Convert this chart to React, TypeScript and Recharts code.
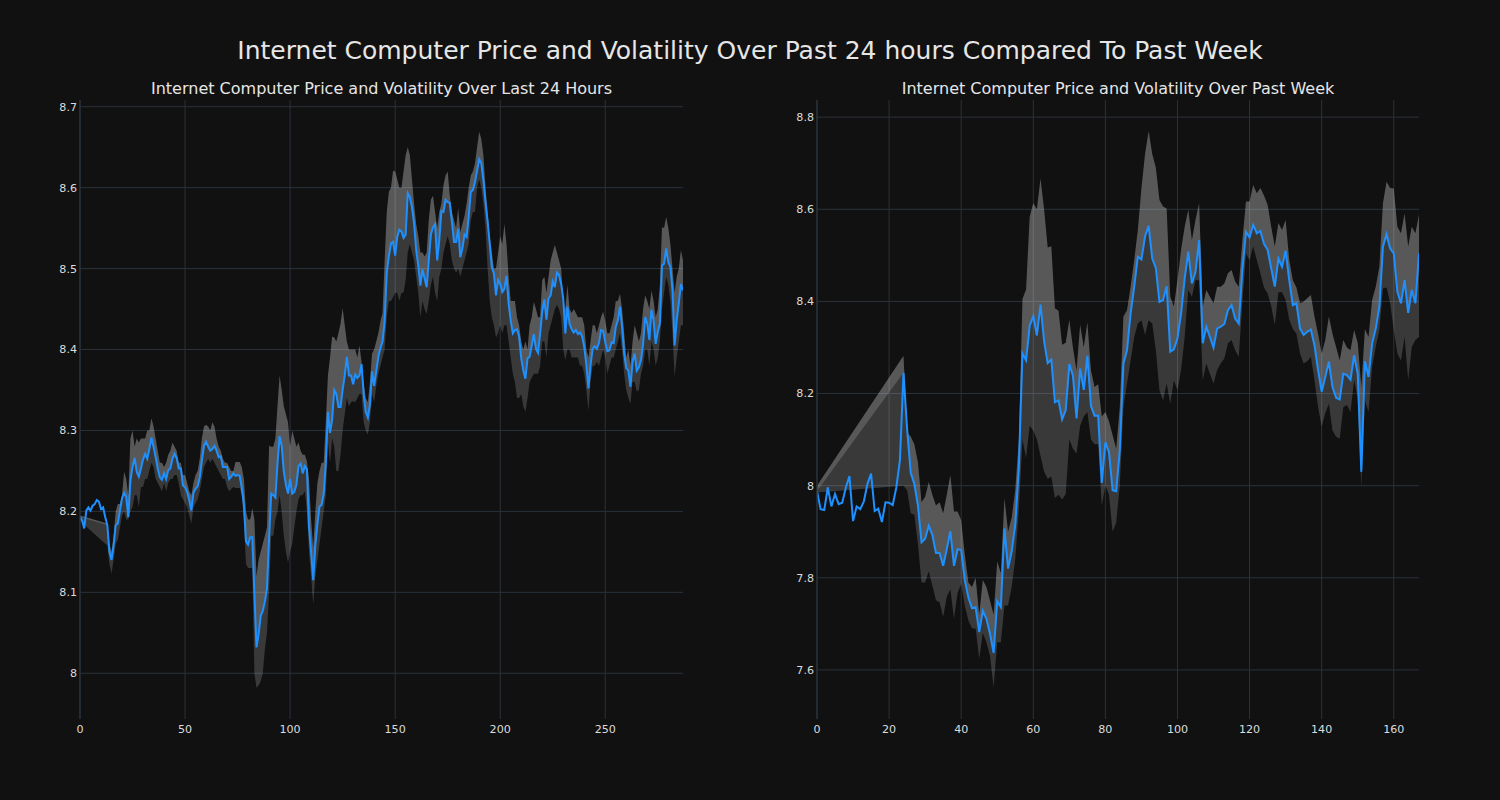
import React from "react";
import { ComposedChart, Line, Area, XAxis, YAxis, CartesianGrid } from "recharts";

// ---------- Last 24 hours (5-minute steps) ----------
const price24h = [
  8.193, 8.189, 8.179, 8.201, 8.205, 8.201, 8.207, 8.209, 8.214, 8.212,
  8.203, 8.205, 8.193, 8.183, 8.150, 8.140, 8.158, 8.183, 8.185, 8.201,
  8.216, 8.223, 8.218, 8.193, 8.238, 8.255, 8.266, 8.249, 8.243, 8.253,
  8.264, 8.271, 8.265, 8.277, 8.291, 8.280, 8.267, 8.253, 8.242, 8.239,
  8.247, 8.240, 8.251, 8.253, 8.265, 8.271, 8.266, 8.253, 8.253, 8.232,
  8.230, 8.224, 8.214, 8.201, 8.223, 8.228, 8.231, 8.242, 8.263, 8.281,
  8.286, 8.280, 8.275, 8.277, 8.281, 8.275, 8.267, 8.268, 8.255, 8.255,
  8.255, 8.240, 8.243, 8.247, 8.244, 8.245, 8.244, 8.229, 8.208, 8.163,
  8.159, 8.168, 8.168, 8.099, 8.032, 8.048, 8.071, 8.077, 8.089, 8.105,
  8.167, 8.222, 8.220, 8.217, 8.259, 8.293, 8.281, 8.249, 8.233, 8.222,
  8.240, 8.222, 8.224, 8.233, 8.256, 8.259, 8.247, 8.256, 8.252, 8.181,
  8.149, 8.115, 8.158, 8.185, 8.206, 8.208, 8.222, 8.259, 8.323, 8.297,
  8.313, 8.350, 8.345, 8.329, 8.329, 8.350, 8.368, 8.391, 8.368, 8.368,
  8.357, 8.369, 8.365, 8.368, 8.382, 8.345, 8.323, 8.316, 8.332, 8.373,
  8.355, 8.373, 8.391, 8.402, 8.410, 8.435, 8.495, 8.515, 8.531, 8.533,
  8.516, 8.539, 8.548, 8.546, 8.538, 8.542, 8.593, 8.588, 8.576, 8.556,
  8.523, 8.504, 8.479, 8.499, 8.488, 8.477, 8.510, 8.542, 8.551, 8.555,
  8.510, 8.535, 8.571, 8.570, 8.585, 8.582, 8.581, 8.558, 8.533, 8.533,
  8.549, 8.514, 8.525, 8.542, 8.539, 8.564, 8.595, 8.597, 8.607, 8.621,
  8.635, 8.630, 8.609, 8.582, 8.558, 8.531, 8.502, 8.494, 8.467, 8.486,
  8.481, 8.471, 8.475, 8.491, 8.457, 8.436, 8.420, 8.424, 8.425, 8.416,
  8.389, 8.374, 8.364, 8.389, 8.391, 8.405, 8.419, 8.401, 8.396, 8.420,
  8.447, 8.462, 8.437, 8.463, 8.467, 8.484, 8.477, 8.495, 8.492, 8.481,
  8.463, 8.420, 8.453, 8.432, 8.425, 8.421, 8.424, 8.419, 8.421, 8.416,
  8.403, 8.381, 8.352, 8.381, 8.401, 8.404, 8.401, 8.408, 8.424, 8.423,
  8.409, 8.398, 8.399, 8.409, 8.408, 8.428, 8.436, 8.453, 8.428, 8.395,
  8.377, 8.374, 8.354, 8.385, 8.395, 8.374, 8.378, 8.387, 8.407, 8.440,
  8.432, 8.412, 8.449, 8.436, 8.407, 8.422, 8.432, 8.504, 8.506, 8.525,
  8.508, 8.502, 8.473, 8.405, 8.436, 8.457, 8.481, 8.473,
];

const low24h = [
  8.188, null, null, null, null, null, null, null, null, null,
  null, null, null, 8.158, 8.135, 8.123, 8.14, 8.16, 8.165, 8.18,
  8.195, 8.2, 8.19, 8.19, 8.2, 8.205, 8.22, 8.22, 8.205, 8.23,
  8.23, 8.24, 8.24, 8.25, 8.26, 8.255, 8.24, 8.235, 8.23, 8.225,
  8.235, 8.225, 8.235, 8.24, 8.24, 8.245, 8.245, 8.235, 8.22, 8.215,
  8.21, 8.205, 8.195, 8.185, 8.205, 8.21, 8.215, 8.225, 8.24, 8.255,
  8.26, 8.265, 8.26, 8.265, 8.26, 8.255, 8.25, 8.245, 8.24, 8.24,
  8.23, 8.225, 8.228, 8.23, 8.229, 8.229, 8.229, 8.22, 8.19, 8.135,
  8.13, 8.13, 8.13, 8.0, 7.982, 7.985, 7.99, 8.0, 8.03, 8.05,
  8.1, 8.17, 8.17, 8.19, 8.2, 8.22, 8.2, 8.17, 8.15, 8.137,
  8.15, 8.16, 8.18, 8.2, 8.215, 8.22, 8.22, 8.225, 8.2, 8.15,
  8.12, 8.085, 8.12, 8.14, 8.16, 8.18, 8.2, 8.22, 8.286, 8.26,
  8.29, 8.28, 8.25, 8.25, 8.27, 8.3, 8.32, 8.34, 8.33, 8.335,
  8.336, 8.335, 8.34, 8.345, 8.345, 8.31, 8.3, 8.295, 8.31, 8.345,
  8.335, 8.355, 8.37, 8.38, 8.39, 8.4, 8.44, 8.46, 8.46, 8.465,
  8.47, 8.47, 8.46, 8.47, 8.47, 8.486, 8.52, 8.53, 8.52, 8.51,
  8.49, 8.47, 8.44, 8.46, 8.45, 8.444, 8.46, 8.48, 8.49, 8.47,
  8.46, 8.49, 8.5, 8.52, 8.53, 8.54, 8.53, 8.51, 8.5, 8.495,
  8.5, 8.49, 8.5, 8.51, 8.52, 8.53, 8.56, 8.57, 8.57, 8.6,
  8.61, 8.6, 8.58, 8.55, 8.5, 8.46, 8.44, 8.43, 8.415, 8.42,
  8.43, 8.42, 8.43, 8.43, 8.41, 8.39, 8.37, 8.36, 8.34, 8.34,
  8.345, 8.33, 8.323, 8.34, 8.36, 8.365, 8.37, 8.37, 8.37, 8.38,
  8.41, 8.41, 8.39, 8.42, 8.43, 8.44, 8.45, 8.455, 8.45, 8.44,
  8.4, 8.387, 8.4, 8.4, 8.39, 8.39, 8.39, 8.39, 8.38, 8.38,
  8.37, 8.35, 8.325, 8.36, 8.38, 8.38, 8.385, 8.38, 8.39, 8.4,
  8.39, 8.37, 8.38, 8.39, 8.39, 8.4, 8.41, 8.42, 8.4, 8.37,
  8.35, 8.34, 8.333, 8.36, 8.36, 8.348, 8.35, 8.37, 8.38, 8.4,
  8.4, 8.38, 8.41, 8.4, 8.38, 8.39, 8.41, 8.45, 8.47, 8.49,
  8.48, 8.46, 8.42, 8.366, 8.39, 8.41, 8.43, 8.43,
];

const high24h = [
  8.195, null, null, null, null, null, null, null, null, null,
  null, null, null, 8.185, 8.16, 8.15, 8.17, 8.2, 8.209, 8.209,
  8.22, 8.249, 8.24, 8.22, 8.29, 8.3, 8.28, 8.29, 8.285, 8.29,
  8.29, 8.29, 8.3, 8.3, 8.315, 8.305, 8.29, 8.275, 8.26, 8.26,
  8.255, 8.26, 8.27, 8.275, 8.285, 8.28, 8.275, 8.26, 8.26, 8.245,
  8.245, 8.235, 8.225, 8.22, 8.235, 8.245, 8.25, 8.265, 8.29, 8.305,
  8.307, 8.305, 8.3, 8.31, 8.305, 8.29, 8.28, 8.275, 8.265, 8.26,
  8.26, 8.255, 8.25, 8.25, 8.261, 8.261, 8.261, 8.255, 8.24, 8.2,
  8.19, 8.19, 8.204, 8.19, 8.12, 8.14, 8.15, 8.16, 8.17, 8.18,
  8.281, 8.28, 8.28, 8.29, 8.33, 8.368, 8.35, 8.33, 8.32, 8.31,
  8.28, 8.3, 8.29, 8.28, 8.285, 8.275, 8.27, 8.27, 8.262, 8.24,
  8.19, 8.155, 8.2, 8.235, 8.25, 8.26, 8.26, 8.31, 8.368, 8.39,
  8.416, 8.415, 8.41, 8.42, 8.432, 8.451, 8.43, 8.41, 8.4, 8.4,
  8.4, 8.4, 8.39, 8.405, 8.385, 8.36, 8.34, 8.335, 8.36, 8.395,
  8.4, 8.41, 8.42, 8.435, 8.445, 8.51, 8.57, 8.595, 8.6, 8.621,
  8.62, 8.61, 8.6, 8.6, 8.62, 8.64, 8.65, 8.64, 8.61, 8.58,
  8.555, 8.54, 8.52, 8.52, 8.515, 8.52, 8.56, 8.585, 8.59, 8.57,
  8.55, 8.57, 8.58, 8.603, 8.615, 8.62, 8.59, 8.57, 8.56, 8.55,
  8.575, 8.545, 8.555, 8.565, 8.58, 8.6, 8.615, 8.62, 8.63, 8.65,
  8.669, 8.66, 8.64, 8.6, 8.57, 8.54, 8.52, 8.5, 8.5, 8.52,
  8.54, 8.53, 8.555, 8.53, 8.49, 8.46, 8.46, 8.46, 8.44, 8.43,
  8.41, 8.4, 8.41, 8.4, 8.43, 8.44, 8.459, 8.45, 8.44, 8.44,
  8.486, 8.49, 8.47, 8.49, 8.51, 8.52, 8.529, 8.52, 8.51, 8.5,
  8.46, 8.45, 8.48, 8.45, 8.445, 8.45, 8.445, 8.44, 8.44, 8.44,
  8.43, 8.4, 8.39, 8.41, 8.43, 8.43, 8.42, 8.43, 8.44, 8.447,
  8.435, 8.42, 8.42, 8.43, 8.44, 8.46, 8.46, 8.469, 8.45, 8.42,
  8.39, 8.4, 8.38, 8.41, 8.43, 8.42, 8.41, 8.42, 8.45, 8.467,
  8.46, 8.45, 8.473, 8.46, 8.44, 8.45, 8.48, 8.551, 8.55, 8.564,
  8.55, 8.53, 8.5, 8.47, 8.49, 8.5, 8.523, 8.51,
];

// ---------- Past week (hourly steps) ----------
const priceWeek = [
  7.988, 7.949, 7.947, 7.996, 7.955, 7.982, 7.960, 7.963, 7.996, 8.021,
  7.923, 7.955, 7.949, 7.966, 8.004, 8.026, 7.945, 7.950, 7.921, 7.964,
  7.963, 7.958, 7.996, 8.055, 8.245, 8.123, 8.028, 8.004, 7.957, 7.877,
  7.885, 7.913, 7.893, 7.854, 7.854, 7.826, 7.862, 7.901, 7.826, 7.862,
  7.860, 7.795, 7.757, 7.734, 7.736, 7.682, 7.728, 7.711, 7.678, 7.637,
  7.749, 7.736, 7.907, 7.820, 7.857, 7.915, 8.040, 8.287, 8.272, 8.347,
  8.368, 8.326, 8.393, 8.314, 8.266, 8.274, 8.181, 8.185, 8.144, 8.164,
  8.264, 8.239, 8.146, 8.254, 8.208, 8.282, 8.173, 8.152, 8.152, 8.006,
  8.094, 8.073, 7.990, 7.988, 8.077, 8.265, 8.294, 8.374, 8.432, 8.497,
  8.491, 8.541, 8.564, 8.493, 8.472, 8.399, 8.403, 8.433, 8.291, 8.296,
  8.320, 8.374, 8.450, 8.508, 8.439, 8.464, 8.533, 8.309, 8.345, 8.323,
  8.300, 8.341, 8.345, 8.351, 8.381, 8.392, 8.363, 8.352, 8.468, 8.551,
  8.539, 8.566, 8.548, 8.553, 8.525, 8.512, 8.472, 8.432, 8.493, 8.475,
  8.510, 8.446, 8.392, 8.396, 8.341, 8.327, 8.334, 8.339, 8.305, 8.251,
  8.204, 8.236, 8.269, 8.214, 8.191, 8.187, 8.243, 8.240, 8.230, 8.283,
  8.243, 8.030, 8.270, 8.236, 8.309, 8.341, 8.388, 8.519, 8.546, 8.515,
  8.504, 8.421, 8.396, 8.446, 8.375, 8.425, 8.396, 8.504,
];

const lowWeek = [
  7.985, null, null, null, null, null, null, null, null, null,
  null, null, null, null, null, null, null, null, null, null,
  null, null, null, null, 8.0, 7.99, 7.94, 7.937, 7.873, 7.79,
  7.79, 7.814, 7.783, 7.751, 7.747, 7.715, 7.759, 7.775, 7.711, 7.767,
  7.787, 7.739, 7.707, 7.69, 7.69, 7.624, 7.68, 7.66, 7.63, 7.562,
  7.66, 7.66, 7.74, 7.74, 7.78, 7.84, 7.95, 8.1, 8.06, 8.13,
  8.12, 8.1, 8.065, 8.03, 8.015, 8.02, 7.973, 7.98, 7.97, 7.982,
  8.1, 8.08, 8.07, 8.13, 8.15, 8.16, 8.1, 8.09, 8.09, 7.957,
  8.0, 7.98, 7.9, 7.92, 8.0, 8.171, 8.222, 8.272, 8.323, 8.352,
  8.359, 8.327, 8.359, 8.352, 8.294, 8.207, 8.185, 8.222, 8.178, 8.229,
  8.207, 8.251, 8.323, 8.425, 8.41, 8.446, 8.446, 8.229, 8.265, 8.243,
  8.222, 8.251, 8.265, 8.276, 8.309, 8.316, 8.294, 8.28, 8.396, 8.504,
  8.49, 8.519, 8.49, 8.461, 8.43, 8.417, 8.39, 8.349, 8.42, 8.42,
  8.403, 8.36, 8.34, 8.33, 8.287, 8.265, 8.27, 8.28, 8.229, 8.171,
  8.128, 8.157, 8.178, 8.12, 8.106, 8.102, 8.17, 8.175, 8.16, 8.229,
  8.19, 7.997, 8.186, 8.16, 8.258, 8.301, 8.338, 8.428, 8.43, 8.396,
  8.338, 8.287, 8.272, 8.323, 8.229, 8.301, 8.316, 8.323,
];

const highWeek = [
  8.0, null, null, null, null, null, null, null, null, null,
  null, null, null, null, null, null, null, null, null, null,
  null, null, null, null, 8.282, 8.115, 8.107, 8.09, 8.051, 7.964,
  7.976, 8.008, 7.98, 7.957, 7.964, 7.94, 7.98, 8.023, 7.944, 7.944,
  7.925, 7.85, 7.79, 7.78, 7.8, 7.72, 7.795, 7.78, 7.75, 7.72,
  7.836, 7.81, 7.973, 7.9, 7.93, 7.99, 8.1, 8.405, 8.426, 8.584,
  8.613, 8.6, 8.667, 8.6, 8.517, 8.52, 8.385, 8.38, 8.306, 8.31,
  8.36, 8.3, 8.25, 8.35, 8.3, 8.355, 8.25, 8.214, 8.22, 8.15,
  8.16, 8.14, 8.11, 8.08, 8.171, 8.367, 8.381, 8.432, 8.49, 8.555,
  8.645, 8.72, 8.77, 8.72, 8.69, 8.62, 8.606, 8.602, 8.41, 8.389,
  8.446, 8.512, 8.562, 8.599, 8.533, 8.577, 8.613, 8.389, 8.425, 8.41,
  8.396, 8.432, 8.432, 8.439, 8.461, 8.468, 8.443, 8.432, 8.533, 8.617,
  8.617, 8.653, 8.635, 8.646, 8.63, 8.61, 8.562, 8.519, 8.57, 8.555,
  8.577, 8.49, 8.446, 8.43, 8.396, 8.4, 8.407, 8.414, 8.367, 8.33,
  8.287, 8.316, 8.367, 8.33, 8.301, 8.272, 8.316, 8.3, 8.294, 8.338,
  8.31, 8.214, 8.34, 8.323, 8.403, 8.432, 8.475, 8.613, 8.66, 8.646,
  8.645, 8.562, 8.548, 8.591, 8.519, 8.562, 8.548, 8.588,
];

const ticksX24h = [0, 50, 100, 150, 200, 250];
const ticksY24h = [8, 8.1, 8.2, 8.3, 8.4, 8.5, 8.6, 8.7];
const ticksXWeek = [0, 20, 40, 60, 80, 100, 120, 140, 160];
const ticksYWeek = [7.6, 7.8, 8, 8.2, 8.4, 8.6, 8.8];

const MAIN_TITLE = "Internet Computer Price and Volatility Over Past 24 hours Compared To Past Week";
const TITLE_24H = "Internet Computer Price and Volatility Over Last 24 Hours";
const TITLE_WEEK = "Internet Computer Price and Volatility Over Past Week";

const FONT = "'DejaVu Sans', 'Liberation Sans', sans-serif";
const BG = "#111111";
const GRID = "#2b323b";
const TEXT = "#e6e6e6";
const TICK = "#dcdcdc";
const LINE = "#1e90ff";

function buildLine(price: number[]) {
  return price.map((p, i) => ({ x: i, price: p }));
}
function buildBand(price: number[], low: (number | null)[], high: (number | null)[]) {
  const rows: { x: number; hi: number[]; lo: number[] }[] = [];
  price.forEach((p, i) => {
    const l = low[i];
    const h = high[i];
    if (l != null && h != null) rows.push({ x: i, hi: [p, h], lo: [l, p] });
  });
  return rows;
}

type PanelProps = {
  left: number;
  marginLeft: number;
  marginRight: number;
  price: number[];
  low: (number | null)[];
  high: (number | null)[];
  xDomain: [number, number];
  yDomain: [number, number];
  xTicks: number[];
  yTicks: number[];
};

function Panel(props: PanelProps) {
  const lineRows = buildLine(props.price);
  const bandRows = buildBand(props.price, props.low, props.high);
  const tickStyle = { fill: TICK, fontSize: 11.1, fontFamily: FONT };
  return (
    <div style={{ position: "absolute", left: props.left, top: 0 }}>
      <ComposedChart
        width={750}
        height={800}
        data={lineRows}
        margin={{ top: 100, left: props.marginLeft, right: props.marginRight, bottom: 51 }}
      >
        <CartesianGrid
          stroke={GRID}
          strokeWidth={1}
          horizontalValues={props.yTicks}
          verticalValues={props.xTicks}
        />
        <XAxis
          dataKey="x"
          type="number"
          domain={props.xDomain}
          ticks={props.xTicks}
          allowDataOverflow
          interval={0}
          axisLine={false}
          tickLine={false}
          tickSize={3}
          tickMargin={3}
          height={30}
          tick={tickStyle}
        />
        <YAxis
          type="number"
          domain={props.yDomain}
          ticks={props.yTicks}
          allowDataOverflow
          interval={0}
          axisLine={{ stroke: GRID, strokeWidth: 1.2 }}
          tickLine={false}
          tickSize={2}
          tickMargin={1}
          width={40}
          tick={tickStyle}
          tickFormatter={(v: number) => String(v)}
        />
        <Area
          data={bandRows}
          dataKey="lo"
          type="linear"
          stroke="none"
          fill="#ffffff"
          fillOpacity={0.17}
          dot={false}
          activeDot={false}
          isAnimationActive={false}
        />
        <Area
          data={bandRows}
          dataKey="hi"
          type="linear"
          stroke="none"
          fill="#ffffff"
          fillOpacity={0.3}
          dot={false}
          activeDot={false}
          isAnimationActive={false}
        />
        <Line
          dataKey="price"
          type="linear"
          stroke={LINE}
          strokeWidth={2}
          dot={false}
          activeDot={false}
          isAnimationActive={false}
        />
      </ComposedChart>
    </div>
  );
}

export default function App() {
  return (
    <div
      style={{
        position: "absolute",
        left: 0,
        top: 0,
        width: 1500,
        height: 800,
        background: BG,
        overflow: "hidden",
        fontFamily: FONT,
      }}
    >
      <Panel
        left={0}
        marginLeft={40}
        marginRight={67}
        price={price24h}
        low={low24h}
        high={high24h}
        xDomain={[0, 287]}
        yDomain={[7.9435, 8.7083]}
        xTicks={ticksX24h}
        yTicks={ticksY24h}
      />
      <Panel
        left={750}
        marginLeft={27}
        marginRight={81}
        price={priceWeek}
        low={lowWeek}
        high={highWeek}
        xDomain={[0, 167]}
        yDomain={[7.4934, 8.8373]}
        xTicks={ticksXWeek}
        yTicks={ticksYWeek}
      />
      <div
        style={{
          position: "absolute",
          left: 0,
          width: 1500,
          top: 38,
          textAlign: "center",
          fontSize: 25,
          lineHeight: 1,
          color: TEXT,
          whiteSpace: "nowrap",
        }}
      >
        {MAIN_TITLE}
      </div>
      <div
        style={{
          position: "absolute",
          left: 80,
          width: 603,
          top: 81.3,
          textAlign: "center",
          fontSize: 16,
          lineHeight: 1,
          color: TEXT,
          whiteSpace: "nowrap",
        }}
      >
        {TITLE_24H}
      </div>
      <div
        style={{
          position: "absolute",
          left: 817,
          width: 602,
          top: 81.3,
          textAlign: "center",
          fontSize: 16,
          lineHeight: 1,
          color: TEXT,
          whiteSpace: "nowrap",
        }}
      >
        {TITLE_WEEK}
      </div>
    </div>
  );
}
